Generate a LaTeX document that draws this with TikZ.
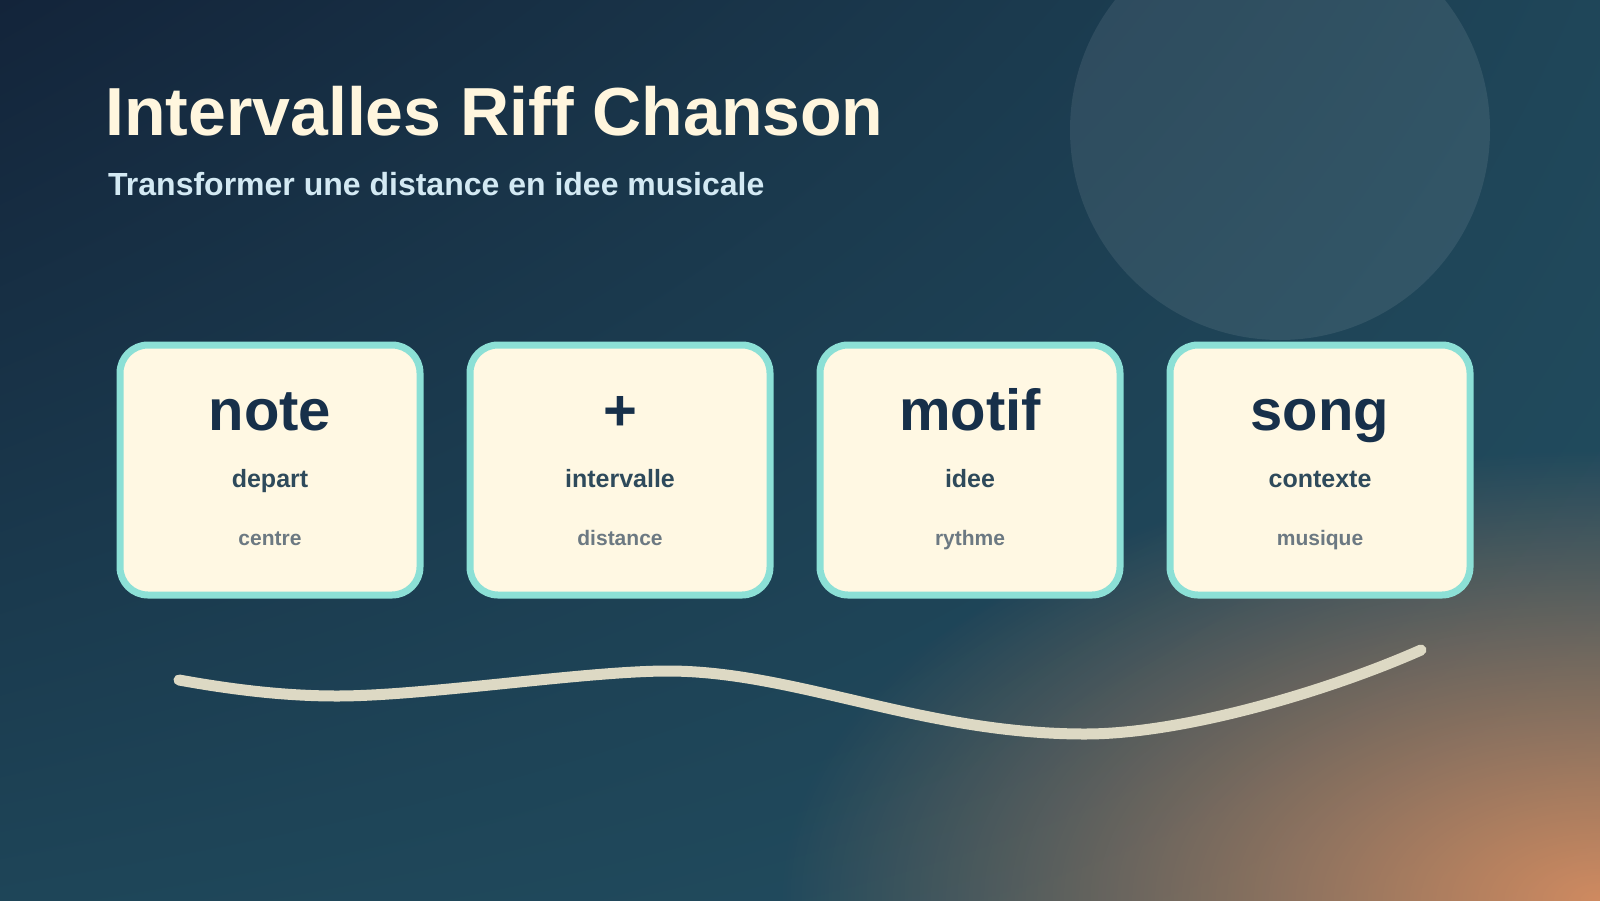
\documentclass[tikz,border=0pt]{standalone}
\usepackage{fontspec}
\setmainfont{Liberation Sans}
\usetikzlibrary{fadings,shadings}
\definecolor{bgTL}{HTML}{13243A}
\definecolor{bgTR}{HTML}{1F4659}
\definecolor{bgBL}{HTML}{1E4558}
\definecolor{bgBR}{HTML}{224E60}
\definecolor{glowc}{HTML}{EE9560}
\definecolor{cardfill}{HTML}{FFF8E3}
\definecolor{cardedge}{HTML}{8CE0D6}
\definecolor{bigc}{HTML}{17304A}
\definecolor{midc}{HTML}{2E4A5B}
\definecolor{lowc}{HTML}{6C7982}
\definecolor{titlec}{HTML}{FFF6DE}
\definecolor{subc}{HTML}{D3E9F3}
\definecolor{wavec}{HTML}{DDD9C4}
\tikzfading[name=glowfade, inner color=transparent!15, outer color=transparent!100]
\tikzset{
  card/.style={draw=cardedge, fill=cardfill, line width=7pt, rounded corners=28pt,
    minimum width=300pt, minimum height=250pt, inner sep=0pt},
  bigword/.style={anchor=base, inner sep=0pt, text=bigc, font=\fontsize{58}{60}\selectfont\bfseries},
  midword/.style={anchor=base, inner sep=0pt, text=midc, font=\fontsize{25}{27}\selectfont\bfseries},
  lowword/.style={anchor=base, inner sep=0pt, text=lowc, font=\fontsize{21}{23}\selectfont\bfseries},
  wave/.style={draw=wavec, line width=11pt, line cap=round}
}
\begin{document}
\begin{tikzpicture}[x=1pt,y=-1pt]
\useasboundingbox (0,0) rectangle (1600,900);
% background
\shade[upper left=bgTL, upper right=bgTR, lower left=bgBL, lower right=bgBR] (0,0) rectangle (1600,900);
\fill[glowc, path fading=glowfade] (1600,900) ellipse [x radius=820, y radius=450];
% decorative circle
\fill[white, fill opacity=0.085] (1280,130) circle (210);
% title
\node[anchor=base west, inner sep=0pt, text=titlec, font=\fontsize{68}{70}\selectfont\bfseries] (title) at (105,135) {Intervalles Riff Chanson};
\node[anchor=base west, inner sep=0pt, text=subc, font=\fontsize{32}{34}\selectfont\bfseries] (subtitle) at (108,195) {Transformer une distance en idee musicale};
% cards
\foreach \i/\cx/\a/\b/\c in {1/270/note/depart/centre, 2/620/+/intervalle/distance, 3/970/motif/idee/rythme, 4/1320/song/contexte/musique}{
  \node[card] (card\i) at (\cx,470) {};
  \node[bigword] (big\i) at (\cx,430) {\a};
  \node[midword] (mid\i) at (\cx,487) {\b};
  \node[lowword] (low\i) at (\cx,545) {\c};
}
% wave
\draw[wave] (179,680) .. controls (229,689) and (282,696) .. (337,696)
  .. controls (425,696) and (585,671) .. (668,671)
  .. controls (795,671) and (922,734) .. (1085,734)
  .. controls (1185,734) and (1331,690) .. (1421,650);
\end{tikzpicture}
\end{document}
